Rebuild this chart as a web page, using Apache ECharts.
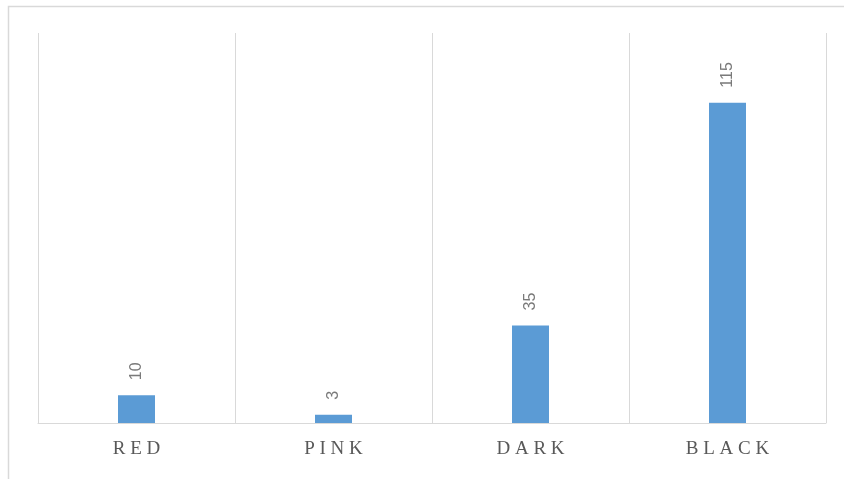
<!DOCTYPE html>
<html>
<head>
<meta charset="utf-8">
<script src="https://cdn.jsdelivr.net/npm/echarts@6/dist/echarts.min.js"></script>
<style>
  html, body { margin: 0; padding: 0; background: #fff; }
  #chart { width: 844px; height: 479px; }
</style>
</head>
<body>
<div id="chart"></div>
<script>
// Categories and counts
const categories = ['RED', 'PINK', 'DARK', 'BLACK'];
const counts = [10, 3, 35, 115];

const chart = echarts.init(document.getElementById('chart'), null, { renderer: 'canvas' });

// Spread letters of the category names apart
const spaced = s => s.split('').join(' ');

chart.setOption({
  backgroundColor: '#ffffff',
  animation: false,
  graphic: [{
    type: 'rect',
    silent: true,
    shape: { x: 8.5, y: 6.5, width: 900, height: 600 },
    style: { fill: 'none', stroke: '#d9d9d9', lineWidth: 1.5 }
  }],
  grid: { left: 38, right: 18, top: 33, bottom: 56 },
  xAxis: {
    type: 'category',
    data: categories,
    axisLine: { show: true, lineStyle: { color: '#d9d9d9', width: 1 } },
    axisTick: { show: false },
    splitLine: { show: true, lineStyle: { color: '#d9d9d9', width: 1 } },
    axisLabel: {
      margin: 17,
      color: '#595959',
      fontFamily: 'Liberation Serif',
      fontSize: 19,
      formatter: v => spaced(v)
    }
  },
  yAxis: {
    type: 'value',
    min: 0,
    max: 140,
    show: false,
    splitLine: { show: false }
  },
  series: [{
    type: 'bar',
    data: counts,
    barWidth: 37,
    itemStyle: { color: '#5b9bd5' },
    label: {
      show: true,
      position: 'top',
      rotate: 90,
      align: 'left',
      verticalAlign: 'middle',
      distance: 15,
      color: '#7a7a7a',
      fontFamily: 'Liberation Sans',
      fontSize: 16
    }
  }]
});
</script>
</body>
</html>
